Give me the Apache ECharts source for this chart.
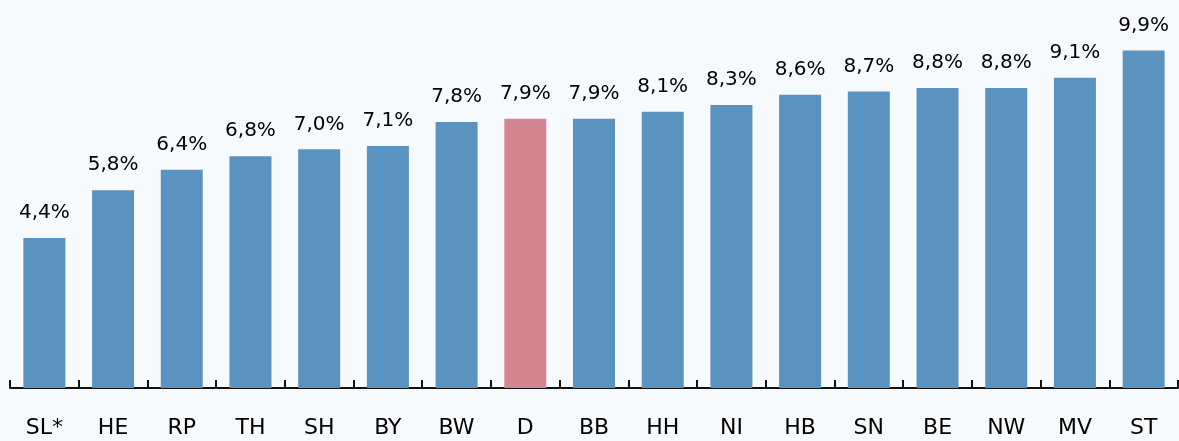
<!DOCTYPE html>
<html>
<head>
<meta charset="utf-8">
<script src="https://cdn.jsdelivr.net/npm/echarts@6/dist/echarts.min.js"></script>
<style>
html, body { margin: 0; padding: 0; background: #f6fafc; }
#chart1 { width: 1179px; height: 441px; }
</style>
</head>
<body>
<div id="chart1"></div>
<script>
var categories = ['SL*', 'HE', 'RP', 'TH', 'SH', 'BY', 'BW', 'D', 'BB', 'HH', 'NI', 'HB', 'SN', 'BE', 'NW', 'MV', 'ST'];
var values = [4.4, 5.8, 6.4, 6.8, 7.0, 7.1, 7.8, 7.9, 7.9, 8.1, 8.3, 8.6, 8.7, 8.8, 8.8, 9.1, 9.9];
var highlight = 'D';

var option = {
	backgroundColor: '#f6fafc',
	animation: false,
	textStyle: {fontFamily: 'DejaVu Sans'},
	grid: {left: 10, right: 1, top: 13, bottom: 53},
	xAxis: {
		type: 'category',
		data: categories,
		axisLine: {lineStyle: {color: '#111', width: 2}},
		axisTick: {show: true, inside: true, length: 8, lineStyle: {color: '#111', width: 2}},
		axisLabel: {color: '#000', fontSize: 22, margin: 29}
	},
	yAxis: {
		type: 'value',
		min: 0,
		max: 11,
		show: false,
		splitLine: {show: false}
	},
	series: [{
		type: 'bar',
		barWidth: 42,
		data: values.map(function (v, i) {
			return {
				value: v,
				itemStyle: {color: categories[i] === highlight ? '#d38592' : '#5b93c0'}
			};
		}),
		label: {
			show: true,
			position: 'top',
			distance: 15,
			color: '#000',
			fontSize: 20,
			formatter: function (p) { return p.value.toFixed(1).replace('.', ',') + '%'; }
		}
	}]
};
var chart1 = echarts.init(document.getElementById('chart1'));
chart1.setOption(option);
</script>
</body>
</html>
